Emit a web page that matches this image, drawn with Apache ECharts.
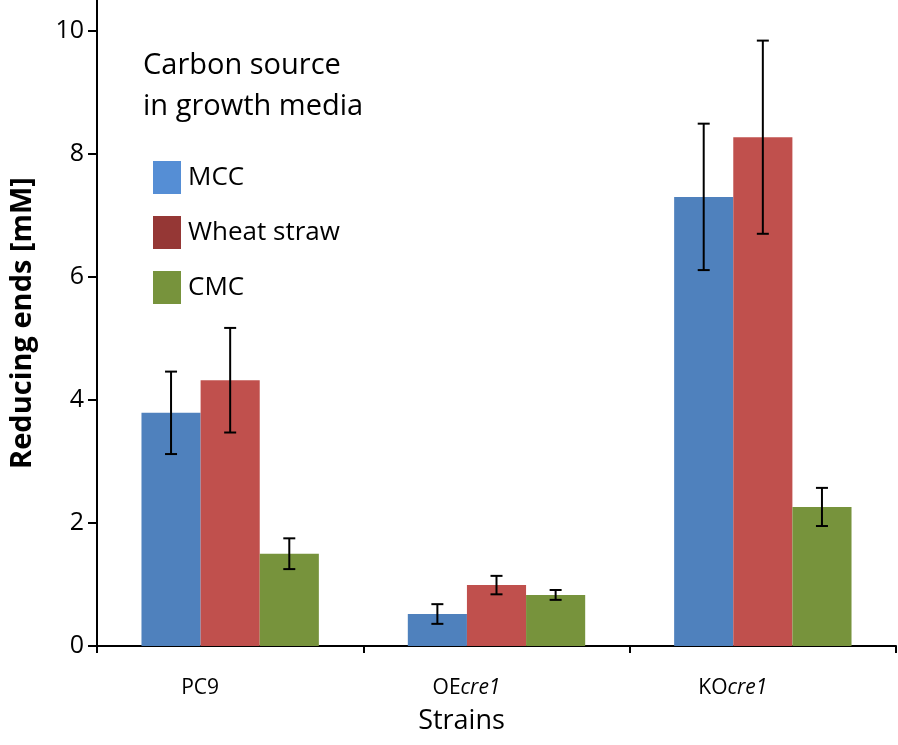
<!DOCTYPE html>
<html><head><meta charset="utf-8">
<script src="https://cdn.jsdelivr.net/npm/echarts@6/dist/echarts.min.js"></script>
<style>html,body{margin:0;padding:0;background:#fff}#c{width:898px;height:745px}</style>
</head><body><div id="c"></div>
<script>
const categories = ['PC9', 'OEcre1', 'KOcre1'];
const seriesNames = ['MCC', 'Wheat straw', 'CMC'];
const mcc = [3.79, 0.52, 7.30];
const wheat = [4.32, 0.99, 8.27];
const cmc = [1.50, 0.83, 2.26];
const mccErr = [0.67, 0.16, 1.19];
const wheatErr = [0.85, 0.15, 1.57];
const cmcErr = [0.25, 0.08, 0.31];
const yTicks = [0, 2, 4, 6, 8, 10];

const barColors = ['#4f81bd', '#c0504d', '#77933c'];
const legendColors = ['#558ed5', '#953735', '#77933c'];
const values = [mcc, wheat, cmc];
const errs = [mccErr, wheatErr, cmcErr];
const BAR_RATIO = 0.222;
const FONT = 'Open Sans';

const series = [];
values.forEach((v, i) => {
  series.push({
    name: seriesNames[i], type: 'bar', data: v, barWidth: (BAR_RATIO * 100) + '%', barGap: '0%',
    itemStyle: { color: barColors[i] }
  });
});
values.forEach((v, i) => {
  series.push({
    type: 'custom', silent: true, z: 10,
    data: v.map((val, k) => [k, val, errs[i][k]]),
    encode: { x: 0, y: 1 },
    renderItem: function (params, api) {
      const k = api.value(0), val = api.value(1), e = api.value(2);
      const band = api.size([1, 0])[0];
      const off = (i - 1) * band * BAR_RATIO;
      const top = api.coord([k, val + e]);
      const bot = api.coord([k, val - e]);
      const x = top[0] + off;
      const cap = 6;
      const st = { stroke: '#000', lineWidth: 2 };
      return { type: 'group', children: [
        { type: 'line', shape: { x1: x, y1: top[1], x2: x, y2: bot[1] }, style: st },
        { type: 'line', shape: { x1: x - cap, y1: top[1], x2: x + cap, y2: top[1] }, style: st },
        { type: 'line', shape: { x1: x - cap, y1: bot[1], x2: x + cap, y2: bot[1] }, style: st }
      ]};
    }
  });
});

const chart = echarts.init(document.getElementById('c'));
chart.setOption({
  animation: false,
  backgroundColor: '#fff',
  grid: { left: 97, right: 2, top: 0, bottom: 99, containLabel: false },
  graphic: [{
    type: 'text', left: 143, top: 45,
    style: { text: 'Carbon source\nin growth media', font: '29px "' + FONT + '"', lineHeight: 41, fill: '#000' }
  }],
  legend: {
    orient: 'vertical', left: 148, top: 156, itemWidth: 28, itemHeight: 33, itemGap: 22,
    icon: 'rect',
    textStyle: { fontFamily: FONT, fontSize: 26, color: '#000', padding: [0, 0, 0, 2] },
    data: seriesNames.map((n, i) => ({ name: n, itemStyle: { color: legendColors[i] } }))
  },
  xAxis: {
    type: 'category', data: categories,
    name: 'Strains', nameLocation: 'middle', nameGap: 62, nameTextStyle: { fontFamily: FONT, fontSize: 27, color: '#000', padding: [0, 70, 0, 0] },
    axisLine: { lineStyle: { color: '#000', width: 2 } },
    axisTick: { show: true, alignWithLabel: false, length: 7, lineStyle: { color: '#000', width: 2 } },
    axisLabel: {
      margin: 32, color: '#000', fontFamily: FONT, fontSize: 21,
      padding: [0, 60, 0, 0],
      formatter: function (v) {
        const m = v.match(/^(OE|KO)(cre1)$/);
        return m ? m[1] + '{i|' + m[2] + '}' : v;
      },
      rich: { i: { fontStyle: 'italic', fontFamily: FONT, fontSize: 21, color: '#000' } }
    }
  },
  yAxis: {
    type: 'value', min: 0, max: 10.5, interval: 2,
    name: 'Reducing ends [mM]', nameLocation: 'middle', nameGap: 60,
    nameTextStyle: { fontFamily: FONT, fontSize: 29, fontWeight: 'bold', color: '#000' },
    splitLine: { show: false },
    axisLine: { show: true, lineStyle: { color: '#000', width: 2 } },
    axisTick: { show: true, length: 9, customValues: yTicks, lineStyle: { color: '#000', width: 2 } },
    axisLabel: { margin: 13, color: '#000', fontFamily: FONT, fontSize: 25, customValues: yTicks }
  },
  series: series
});
</script>
</body></html>
